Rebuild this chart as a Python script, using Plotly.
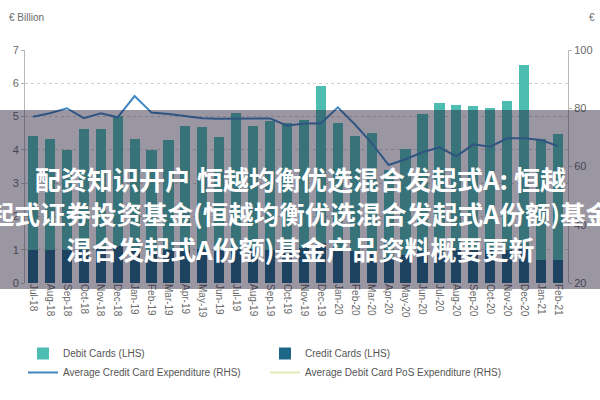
import plotly.graph_objects as go

months = ["Jul-18", "Aug-18", "Sep-18", "Oct-18", "Nov-18", "Dec-18",
          "Jan-19", "Feb-19", "Mar-19", "Apr-19", "May-19", "Jun-19",
          "Jul-19", "Aug-19", "Sep-19", "Oct-19", "Nov-19", "Dec-19",
          "Jan-20", "Feb-20", "Mar-20", "Apr-20", "May-20", "Jun-20",
          "Jul-20", "Aug-20", "Sep-20", "Oct-20", "Nov-20", "Dec-20",
          "Jan-21", "Feb-21"]

credit_cards = [1.00, 1.00, 0.98, 1.00, 1.02, 1.10,
                0.98, 0.95, 1.00, 1.00, 1.02, 1.00,
                1.02, 1.02, 1.00, 1.02, 1.05, 1.20,
                1.00, 0.95, 0.95, 0.75, 0.85, 0.95,
                1.00, 1.00, 1.00, 1.00, 1.00, 1.05,
                0.68, 0.68]

debit_cards = [3.41, 3.32, 3.02, 3.62, 3.61, 3.93,
               3.34, 3.05, 3.30, 3.72, 3.67, 3.38,
               4.09, 3.69, 3.87, 3.79, 3.84, 4.72,
               3.81, 3.46, 3.57, 2.65, 3.17, 4.12,
               4.41, 4.36, 4.31, 4.26, 4.47, 5.49,
               3.65, 3.79]

avg_credit_exp = [77.1, 78.3, 80.0, 76.6, 78.3, 76.9,
                  84.2, 78.5, 78.0, 77.3, 76.6, 76.4,
                  76.4, 76.4, 76.5, 74.0, 74.8, 74.8,
                  80.3, 74.5, 68.0, 60.5, 62.5, 64.9,
                  66.6, 63.5, 67.6, 66.8, 69.7, 69.7,
                  69.1, 67.0]

avg_debit_pos_exp = [None] * len(months)

left_ticks = [0, 1, 2, 3, 4, 5, 6, 7]
right_ticks = [20, 40, 60, 80, 100]

title_lines = ["配资知识开户 恒越均衡优选混合发起式A: 恒越",
               "起式证券投资基金(恒越均衡优选混合发起式A份额)基金",
               "混合发起式A份额)基金产品资料概要更新"]

grey = "#6a6a6a"
fig = go.Figure()
fig.add_trace(go.Bar(x=months, y=credit_cards, name="Credit Cards (LHS)",
                     marker=dict(color="#1d6687", line=dict(width=0)),
                     legendrank=2))
fig.add_trace(go.Bar(x=months, y=debit_cards, name="Debit Cards (LHS)",
                     marker=dict(color="#4dbdb2", line=dict(width=0)),
                     legendrank=1))
fig.add_trace(go.Scatter(x=months, y=avg_credit_exp, yaxis="y2", mode="lines",
                         name="Average Credit Card Expenditure (RHS)",
                         line=dict(color="#3f86c2", width=2), legendrank=3))
fig.add_trace(go.Scatter(x=months, y=avg_debit_pos_exp, yaxis="y2", mode="lines",
                         name="Average Debit Card PoS Expenditure (RHS)",
                         line=dict(color="#e4ebb8", width=2), legendrank=4))

W, L, R, T, B = 600, 25, 32, 50, 117
pw = W - L - R
ph = 400 - T - B

def px(x):
    return (x - L) / pw

def py(y):
    return (400 - B - y) / ph

fig.update_layout(
    width=600, height=400,
    margin=dict(l=L, r=R, t=T, b=B, autoexpand=False),
    paper_bgcolor="white", plot_bgcolor="white",
    barmode="stack", bargap=0.4,
    showlegend=True,
    legend=dict(orientation="h", x=px(23), xanchor="left", y=py(339), yanchor="top",
                entrywidth=197, entrywidthmode="pixels", traceorder="normal",
                font=dict(family="Liberation Sans", size=10, color="#555555"),
                itemwidth=30, tracegroupgap=0),
    font=dict(family="Liberation Sans", color=grey),
    xaxis=dict(type="category", range=[-0.47, 31.59], tickangle=90,
               tickfont=dict(size=10, color=grey), showgrid=False,
               showline=False, ticks=""),
    yaxis=dict(range=[0, 7], tickvals=left_ticks, showgrid=True, gridcolor="#d0d0d0",
               griddash="dot", gridwidth=1, showline=True, linecolor="#b8b8b8",
               ticks="outside", ticklen=3, tickcolor="#b8b8b8",
               tickfont=dict(size=11, color=grey), zeroline=False),
    yaxis2=dict(range=[20, 100], tickvals=right_ticks, overlaying="y", side="right",
                showgrid=False, showline=True, linecolor="#b8b8b8",
                ticks="outside", ticklen=3, tickcolor="#b8b8b8",
                tickfont=dict(size=11, color=grey), zeroline=False),
)

fig.add_annotation(text="€ Billion", xref="paper", yref="paper", x=px(7), y=py(17),
                   xanchor="left", yanchor="middle", showarrow=False,
                   font=dict(size=10, color=grey))
fig.add_annotation(text="€", xref="paper", yref="paper", x=px(587), y=py(17),
                   xanchor="left", yanchor="middle", showarrow=False,
                   font=dict(size=10, color=grey))

# semi-transparent banner
fig.add_shape(type="rect", xref="paper", yref="paper", x0=px(-5), x1=px(605),
              y0=py(289), y1=py(110), fillcolor="rgba(30,25,50,0.45)",
              line=dict(width=0), layer="above")

for t, yc, fs in zip(title_lines, [178, 213, 248], [26, 25.5, 26]):
    fig.add_annotation(text="<b>" + t + "</b>", xref="paper", yref="paper",
                       x=px(300), y=py(yc), xanchor="center", yanchor="middle",
                       showarrow=False,
                       font=dict(family="Noto Sans CJK SC", size=fs, color="white"))

fig.write_html("out.html", config={"displayModeBar": False},
               post_script="document.body.style.margin='0';")
